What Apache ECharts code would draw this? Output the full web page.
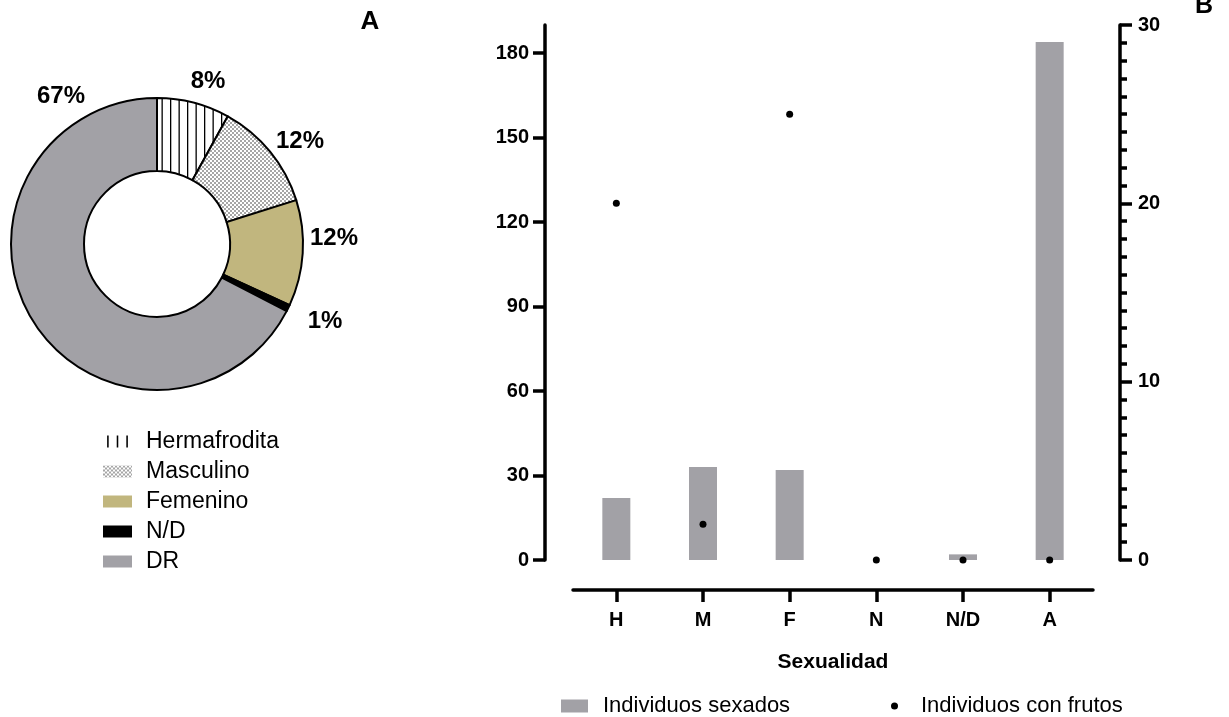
<!DOCTYPE html>
<html>
<head>
<meta charset="utf-8">
<script src="https://cdn.jsdelivr.net/npm/echarts@6/dist/echarts.min.js"></script>
<style>
html,body{margin:0;padding:0;background:#fff;}
#chart{width:1229px;height:717px;}
</style>
</head>
<body>
<div id="chart"></div>
<script>
// ---- data ----
var categories = ['H', 'M', 'F', 'N', 'N/D', 'A'];
var sexados = [22, 33, 32, 0, 2, 184];          // left axis (bars)
var conFrutos = [20, 2, 25, 0, 0, 0];           // right axis (dots)
var leftTicks = [0, 30, 60, 90, 120, 150, 180];
var rightTicks = [0, 10, 20, 30];
var pieNames = ['Hermafrodita', 'Masculino', 'Femenino', 'N/D', 'DR'];
var pieValues = [22, 33, 32, 2, 184];
var xAxisName = 'Sexualidad';
var barSeriesName = 'Individuos sexados';
var dotSeriesName = 'Individuos con frutos';

// ---- layout / styles ----
var FONT = 'Liberation Sans, Arial, Helvetica, sans-serif';
var GRAY = '#a2a1a6';
var KHAKI = '#c1b67e';
var pieLabelPos = [[208, 81], [300, 141], [334, 238], [325, 321], [61, 96]];

function makeLines() {
  var c = document.createElement('canvas');
  c.width = 17; c.height = 4;
  var g = c.getContext('2d');
  g.fillStyle = '#fff'; g.fillRect(0, 0, 17, 4);
  g.fillStyle = '#000';
  g.fillRect(0, 0, 1.3, 4);
  g.fillRect(8.5, 0, 1.3, 4);
  return c;
}
function makeChecker() {
  var c = document.createElement('canvas');
  c.width = 4; c.height = 4;
  var g = c.getContext('2d');
  g.fillStyle = '#fff'; g.fillRect(0, 0, 4, 4);
  g.fillStyle = '#a6a6a6';
  g.fillRect(0, 0, 2, 2);
  g.fillRect(2, 2, 2, 2);
  return c;
}
var pieColors = [
  {image: makeLines(), repeat: 'repeat'},
  {image: makeChecker(), repeat: 'repeat'},
  KHAKI,
  '#000000',
  GRAY
];

var chart = echarts.init(document.getElementById('chart'), null, {renderer: 'canvas'});

var option = {
  animation: false,
  backgroundColor: '#ffffff',
  textStyle: {fontFamily: FONT},
  graphic: [
    {type: 'text', x: 370, y: 22, style: {text: 'A', font: 'bold 26px ' + FONT, fill: '#000', align: 'center', verticalAlign: 'middle'}},
    {type: 'text', x: 1204, y: 6, style: {text: 'B', font: 'bold 25px ' + FONT, fill: '#000', align: 'center', verticalAlign: 'middle'}}
  ],
  legend: [
    {
      orient: 'vertical', left: 98, top: 425, itemGap: 7,
      itemWidth: 29, itemHeight: 12,
      itemStyle: {borderWidth: 0},
      textStyle: {fontSize: 23, color: '#000', fontFamily: FONT, padding: [0, 0, 0, 9]},
      selectedMode: false,
      data: [
        {name: pieNames[0], icon: 'path://M0,0h1.3v10h-1.3z M8,0h1.3v10h-1.3z M16,0h1.3v10h-1.3z', itemStyle: {color: '#000'}},
        {name: pieNames[1], icon: 'rect'},
        {name: pieNames[2], icon: 'rect'},
        {name: pieNames[3], icon: 'rect'},
        {name: pieNames[4], icon: 'rect'}
      ]
    },
    {
      left: 556, top: 690, itemWidth: 27, itemHeight: 13,
      textStyle: {fontSize: 22, color: '#000', fontFamily: FONT, padding: [0, 0, 0, 10]},
      selectedMode: false,
      data: [{name: barSeriesName, icon: 'rect'}]
    },
    {
      left: 886, top: 690, itemWidth: 7, itemHeight: 7,
      textStyle: {fontSize: 22, color: '#000', fontFamily: FONT, padding: [0, 0, 0, 18]},
      selectedMode: false,
      data: [{name: dotSeriesName, icon: 'circle'}]
    }
  ],
  grid: {left: 573, right: 136, top: 25, bottom: 157, containLabel: false},
  xAxis: {
    type: 'category',
    data: categories,
    offset: 30,
    boundaryGap: true,
    name: xAxisName,
    nameLocation: 'middle',
    nameGap: 62,
    nameTextStyle: {fontSize: 21, fontWeight: 'bold', color: '#000', fontFamily: FONT},
    axisLine: {show: true, onZero: false, lineStyle: {color: '#000', width: 3.5}},
    axisTick: {show: true, alignWithLabel: true, length: 12, lineStyle: {color: '#000', width: 3.5}},
    axisLabel: {fontSize: 20, fontWeight: 'bold', color: '#000', margin: 20, fontFamily: FONT},
    splitLine: {show: false}
  },
  yAxis: [
    {
      type: 'value', position: 'left', min: 0, max: 190, interval: 30, offset: 28,
      axisLine: {show: true, onZero: false, lineStyle: {color: '#000', width: 3.5}},
      axisTick: {show: true, length: 12, customValues: leftTicks, lineStyle: {color: '#000', width: 3.5}},
      axisLabel: {fontSize: 20, fontWeight: 'bold', color: '#000', margin: 16, customValues: leftTicks, fontFamily: FONT},
      splitLine: {show: false}
    },
    {
      type: 'value', position: 'right', min: 0, max: 30, interval: 10, offset: 27,
      axisLine: {show: true, onZero: false, lineStyle: {color: '#000', width: 3.5}},
      axisTick: {show: true, length: 12, customValues: rightTicks, lineStyle: {color: '#000', width: 3.5}},
      minorTick: {show: true, splitNumber: 10, length: 7, lineStyle: {color: '#000', width: 3.5}},
      axisLabel: {fontSize: 20, fontWeight: 'bold', color: '#000', margin: 18, customValues: rightTicks, fontFamily: FONT},
      splitLine: {show: false},
      minorSplitLine: {show: false}
    }
  ],
  series: [
    {
      name: barSeriesName,
      type: 'bar',
      xAxisIndex: 0, yAxisIndex: 0,
      data: sexados,
      barWidth: 28,
      itemStyle: {color: GRAY},
      silent: true
    },
    {
      name: dotSeriesName,
      type: 'scatter',
      xAxisIndex: 0, yAxisIndex: 1,
      data: conFrutos,
      symbol: 'circle',
      symbolSize: 7,
      clip: false,
      itemStyle: {color: '#000', opacity: 1},
      silent: true,
      z: 5
    },
    {
      name: 'Sexualidad (pie)',
      type: 'pie',
      center: [157, 244],
      radius: [73, 146],
      startAngle: 90,
      clockwise: true,
      avoidLabelOverlap: false,
      percentPrecision: 0,
      silent: true,
      data: pieNames.map(function (n, i) {
        return {name: n, value: pieValues[i], itemStyle: {color: pieColors[i]}};
      }),
      itemStyle: {borderColor: '#000', borderWidth: 2},
      label: {
        show: true, position: 'outside', formatter: '{d}%',
        fontSize: 24, fontWeight: 'bold', color: '#000', fontFamily: FONT
      },
      labelLine: {show: false},
      labelLayout: function (p) {
        var pos = pieLabelPos[p.dataIndex];
        return {x: pos[0], y: pos[1], align: 'center', verticalAlign: 'middle'};
      },
      emphasis: {disabled: true}
    }
  ]
};
chart.setOption(option);
</script>
</body>
</html>
